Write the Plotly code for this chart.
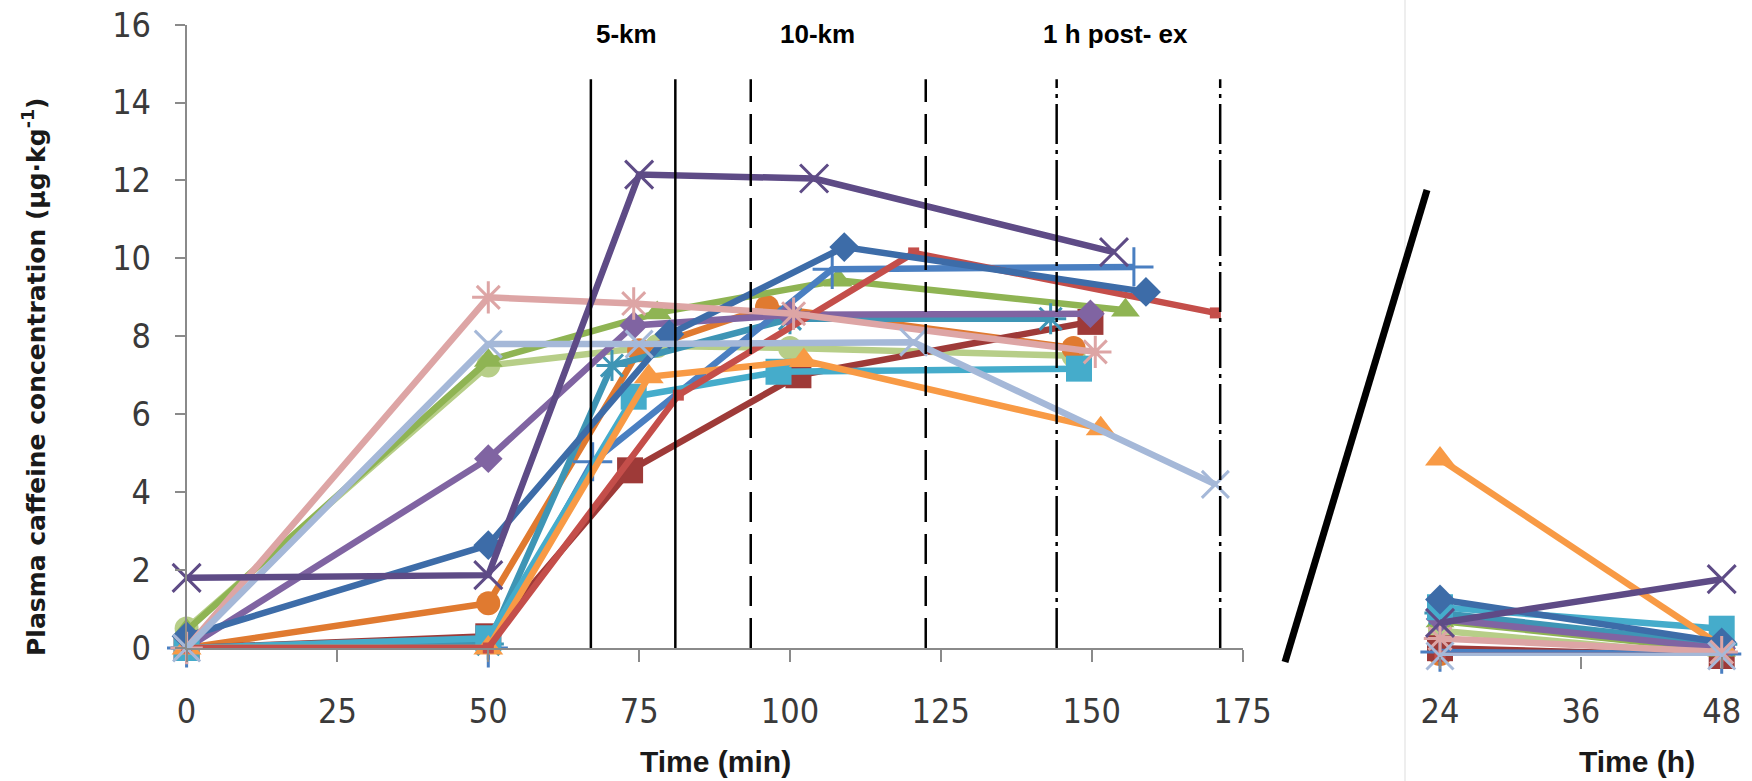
import plotly.graph_objects as go

# ---------------- data ----------------
# time points (min) and plasma caffeine (ug/kg) per subject; h_* are 24 h / 48 h values
t_blue_diamond = [0, 50, 80, 109, 159]
y_blue_diamond = [0.3, 2.64, 8.05, 10.29, 9.14]
h_blue_diamond = [1.45, 0.35]

t_red = [0, 50, 81.5, 120.5, 170.5]
y_red = [0, 0, 6.49, 10.14, 8.6]
h_red = [0.0, 0.0]

t_olive = [0, 50, 78, 108, 155.6]
y_olive = [0.45, 7.38, 8.6, 9.44, 8.67]
h_olive = [0.9, 0.15]

t_teal_star = [0, 50, 70.5, 100, 143.2]
y_teal_star = [0, 0.1, 7.25, 8.45, 8.45]
h_teal_star = [1.1, 0.3]

t_orange_circle = [0, 50, 75, 96.2, 147]
y_orange_circle = [0, 1.15, 7.64, 8.75, 7.7]
h_orange_circle = [0.05, 0.0]

t_blue_plus = [0, 50, 67.3, 107, 157]
y_blue_plus = [0, 0, 4.78, 9.72, 9.78]
h_blue_plus = [0.1, 0.05]

t_dark_red = [0, 50, 73.5, 101.4, 149.8]
y_dark_red = [0, 0.3, 4.56, 7.0, 8.37]
h_dark_red = [0.2, 0.0]

t_purple_diamond = [0, 50, 74.1, 100, 149.8]
y_purple_diamond = [0, 4.86, 8.28, 8.55, 8.58]
h_purple_diamond = [0.95, 0.2]

t_aqua_square = [0, 50, 74.1, 98.1, 147.9]
y_aqua_square = [0, 0.25, 6.45, 7.09, 7.17]
h_aqua_square = [1.25, 0.7]

t_orange_tri = [0, 50, 76.6, 102.3, 151.5]
y_orange_tri = [0, 0, 6.96, 7.38, 5.63]
h_orange_tri = [5.05, 0.25]

t_pink_star = [0, 50, 74.1, 100.6, 150.6]
y_pink_star = [0, 9.0, 8.84, 8.58, 7.6]
h_pink_star = [0.45, 0.1]

t_light_green = [0, 50, 78, 100, 147]
y_light_green = [0.5, 7.25, 7.75, 7.7, 7.5]
h_light_green = [0.65, 0.0]

t_light_blue_x = [0, 50, 75, 120.5, 170.5]
y_light_blue_x = [0, 7.8, 7.8, 7.85, 4.2]
h_light_blue_x = [0.0, 0.0]

t_purple_x = [0, 50, 75, 104, 153.7]
y_purple_x = [1.8, 1.87, 12.15, 12.05, 10.16]
h_purple_x = [0.85, 1.97]

hours = [24, 48]

x_ticks_min = [0, 25, 50, 75, 100, 125, 150, 175]
y_ticks = [0, 2, 4, 6, 8, 10, 12, 14, 16]
x_ticks_h = [24, 36, 48]

# exercise stage boundaries (min)
stage_names = ["5-km", "10-km", "1 h post- ex"]
stage_start = [67, 93.5, 144.2]
stage_end = [81, 122.5, 171.3]
stage_dash = ["solid", "30px,12px", "40px,6px,4px,6px"]
stage_label_x = [72.9, 104.6, 154.0]

# ---------------- style ----------------
series = [
    # name, t, y, h, color, symbol, size, open
    ("S13", t_light_green, y_light_green, h_light_green, "#B7CE88", "circle", 24, False),
    ("S6", t_orange_circle, y_orange_circle, h_orange_circle, "#E07A30", "circle", 24, False),
    ("S8", t_dark_red, y_dark_red, h_dark_red, "#9E3A38", "square", 26, False),
    ("S3", t_olive, y_olive, h_olive, "#8FB453", "triangle-up", 25, False),
    ("S5", t_teal_star, y_teal_star, h_teal_star, "#3E95B5", "asterisk-open", 26, True),
    ("S7", t_blue_plus, y_blue_plus, h_blue_plus, "#4A7FC1", "cross-thin-open", 28, True),
    ("S9", t_purple_diamond, y_purple_diamond, h_purple_diamond, "#8064A2", "diamond", 22, False),
    ("S10", t_aqua_square, y_aqua_square, h_aqua_square, "#45ACCB", "square", 26, False),
    ("S11", t_orange_tri, y_orange_tri, h_orange_tri, "#F89A45", "triangle-up", 26, False),
    ("S2", t_red, y_red, h_red, "#C44E4A", "square", 11, False),
    ("S1", t_blue_diamond, y_blue_diamond, h_blue_diamond, "#3D6CA8", "diamond", 23, False),
    ("S12", t_pink_star, y_pink_star, h_pink_star, "#DDA5A5", "asterisk-open", 27, True),
    ("S14", t_light_blue_x, y_light_blue_x, h_light_blue_x, "#A5B8D8", "x-thin-open", 27, True),
    ("S4", t_purple_x, y_purple_x, h_purple_x, "#5E4B86", "x-thin-open", 28, True),
]

W, H = 1752, 781
def px_x(p):
    return p / W
def px_y(p):
    return (H - p) / H

fig = go.Figure()
for name, t, y, h, col, sym, size, op in series:
    mk = dict(symbol=sym, size=size, color=col)
    if op:
        mk["line"] = dict(color=col, width=3)
    else:
        mk["line"] = dict(width=0)
    fig.add_trace(go.Scatter(x=t, y=y, mode="lines+markers", name=name,
                             line=dict(color=col, width=6.5), marker=mk,
                             cliponaxis=False, showlegend=False,
                             xaxis="x", yaxis="y"))
    fig.add_trace(go.Scatter(x=hours, y=h, mode="lines+markers", name=name,
                             line=dict(color=col, width=6.5), marker=mk,
                             cliponaxis=False, showlegend=False,
                             xaxis="x2", yaxis="y2"))

tick_font = dict(family="Liberation Sans Narrow, DejaVu Sans Condensed, Arial Narrow, sans-serif",
                 size=34, color="#3a3a3a")
axis_grey = "#8a8a8a"

fig.update_layout(
    template="none",
    width=W, height=H,
    margin=dict(l=0, r=0, t=0, b=0, pad=0, autoexpand=False),
    paper_bgcolor="white", plot_bgcolor="white",
    xaxis=dict(domain=[px_x(186.6), px_x(1242.5)], range=[0, 175], automargin=False,
               tickvals=x_ticks_min, ticks="outside", ticklen=12, tickwidth=1.5,
               tickcolor=axis_grey, showline=True, linecolor=axis_grey, linewidth=1.5,
               showgrid=False, zeroline=False, tickfont=tick_font,
               ticklabelstandoff=20, ticklabeloverflow="allow", anchor="y"),
    yaxis=dict(domain=[px_y(648), px_y(24.6)], range=[0, 16], automargin=False,
               tickvals=y_ticks, ticks="outside", ticklen=10, tickwidth=1.5,
               tickcolor=axis_grey, showline=True, linecolor=axis_grey, linewidth=1.5,
               showgrid=False, zeroline=False, tickfont=tick_font,
               ticklabelstandoff=17, ticklabeloverflow="allow", anchor="x"),
    xaxis2=dict(domain=[px_x(1440), px_x(1721.7)], range=[24, 48], automargin=False,
                tickvals=x_ticks_h, ticks="outside", ticklen=12, tickwidth=1.5,
                tickcolor=axis_grey, showline=False,
                showgrid=False, zeroline=False, tickfont=tick_font,
                ticklabelstandoff=13, ticklabeloverflow="allow", anchor="y2"),
    yaxis2=dict(domain=[px_y(656), px_y(32)], range=[0, 16], visible=False,
                automargin=False, showgrid=False, zeroline=False, anchor="x2"),
)

# faint panel separator (as in the pasted figure)
fig.add_shape(type="line", xref="paper", yref="paper", x0=px_x(1405), x1=px_x(1405),
              y0=0, y1=1, line=dict(color="#eeeeee", width=2), layer="below")

# stage boundary lines and labels
for nm, a, b, d in zip(stage_names, stage_start, stage_end, stage_dash):
    for xv in (a, b):
        fig.add_shape(type="line", xref="x", yref="y", x0=xv, x1=xv, y0=0, y1=14.6,
                      line=dict(color="black", width=2.5, dash=d), layer="above")
for nm, lx in zip(stage_names, stage_label_x):
    fig.add_annotation(x=lx, y=15.75, xref="x", yref="y", text="<b>%s</b>" % nm,
                       showarrow=False, xanchor="center", yanchor="middle",
                       font=dict(family="Liberation Sans, Arial, sans-serif", size=26, color="black"))

# axis break slash
fig.add_shape(type="line", xref="paper", yref="paper",
              x0=px_x(1285), y0=px_y(662), x1=px_x(1427), y1=px_y(190),
              line=dict(color="black", width=7))

# axis titles
title_font = dict(family="Liberation Sans, Arial, sans-serif", size=30, color="#1a1a1a")
fig.add_annotation(x=px_x(715), y=px_y(761), xref="paper", yref="paper",
                   xanchor="center", yanchor="middle",
                   text="<b>Time (min)</b>", showarrow=False, font=title_font)
fig.add_annotation(x=px_x(1637), y=px_y(761), xref="paper", yref="paper",
                   xanchor="center", yanchor="middle",
                   text="<b>Time (h)</b>", showarrow=False, font=title_font)
fig.add_annotation(x=px_x(34), y=px_y(377), xref="paper", yref="paper", textangle=-90,
                   xanchor="center", yanchor="middle",
                   text="<b>Plasma caffeine concentration (µg·kg<sup>-1</sup>)</b>",
                   showarrow=False,
                   font=dict(family="DejaVu Sans, Verdana, sans-serif", size=25, color="#1a1a1a"))

# remove the default 8 px page margin so the figure fills the 1752x781 window
fig.write_html("out.html", config={"displayModeBar": False},
               post_script="document.body.style.margin='0px';document.body.style.overflow='hidden';")
